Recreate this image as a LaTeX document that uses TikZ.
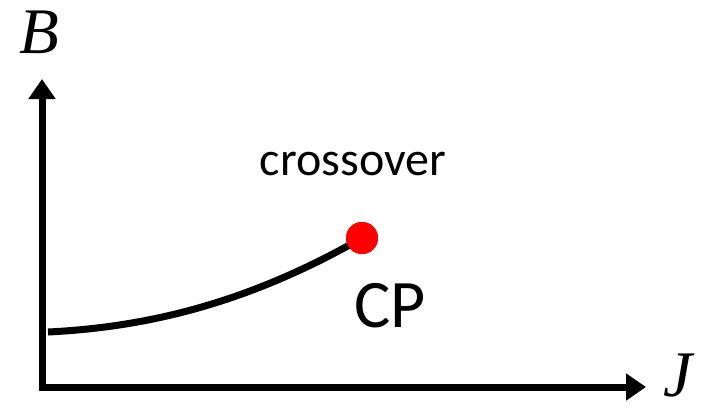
\documentclass[tikz,border=0pt]{standalone}
\usepackage{fontspec}
\setmainfont{Liberation Serif}
\newfontfamily\calib{Carlito}
\usetikzlibrary{arrows.meta}
\tikzset{
  axisline/.style={line width=7pt,-{Triangle[length=20pt,width=26pt]}},
  curveline/.style={line width=7pt},
  axlabel/.style={font=\fontsize{65}{65}\selectfont\itshape,inner sep=0pt,anchor=base},
  txt/.style={inner sep=0pt,anchor=base}
}
\begin{document}
\begin{tikzpicture}[x=1pt,y=-1pt]
\useasboundingbox (0,0) rectangle (704,408);
\coordinate (O1) at (42,390.5);
\coordinate (O2) at (45,387);
\coordinate (Ytip) at (42,79);
\coordinate (Xtip) at (646,387);
\draw[axisline] (O1) -- (Ytip);
\draw[axisline] (O2) -- (Xtip);
\node[axlabel] (B) at (39,53) {B};
\node[axlabel] (J) at (678,396) {J};
\coordinate (S) at (48,332);
\node[circle,fill=red,minimum size=32pt,inner sep=0pt] (CPdot) at (362,238) {};
\draw[curveline] (S) .. controls (150,327) and (250,302) .. (CPdot.center);
\node[circle,fill=red,minimum size=32pt,inner sep=0pt] at (CPdot) {};
\node[txt,font=\calib\fontsize{48}{48}\selectfont] (cross) at (353,175) {crossover};
\node[txt,font=\calib\fontsize{68}{68}\selectfont] (CP) at (390,327) {CP};
\end{tikzpicture}
\end{document}
